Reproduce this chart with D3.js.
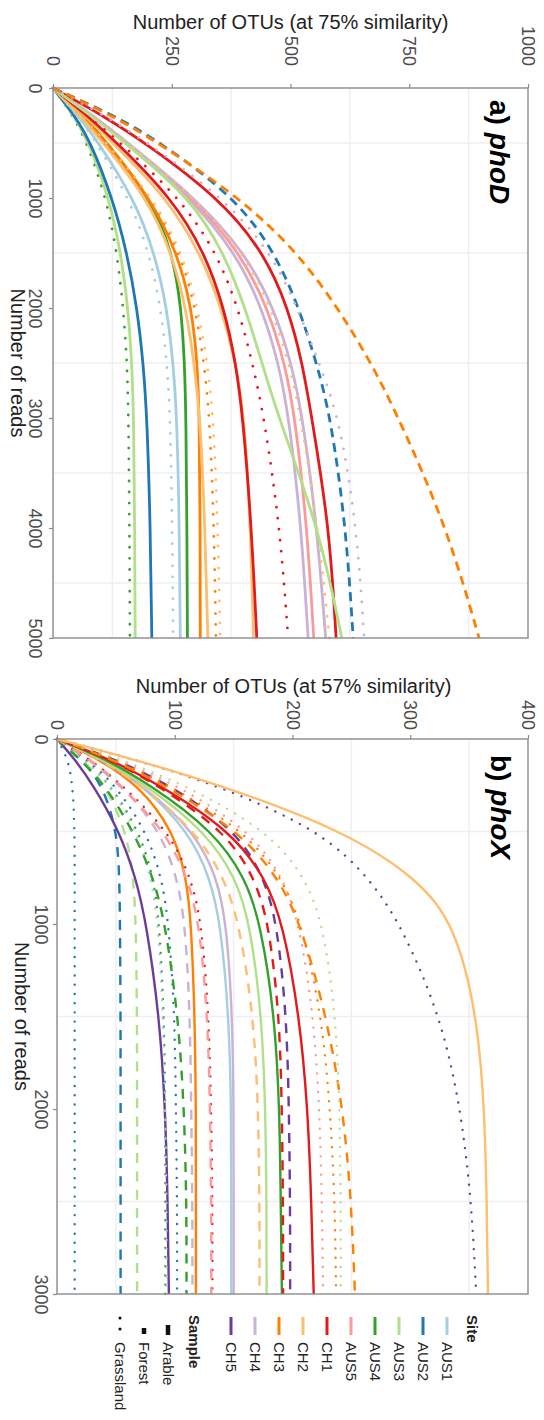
<!DOCTYPE html>
<html>
<head>
<meta charset="utf-8">
<script src="https://cdn.jsdelivr.net/npm/d3@7"></script>
<style>
  html, body { margin: 0; padding: 0; background: #fff; }
  svg { display: block; font-family: "Liberation Sans", Arial, sans-serif; }
</style>
</head>
<body>
<svg id="chart" width="544" height="1420"></svg>
<script>
// ---- legend categories ----
const sites = ["AUS1", "AUS2", "AUS3", "AUS4", "AUS5", "CH1", "CH2", "CH3", "CH4", "CH5"];
const siteColors = ["#a6cee3", "#1f78b4", "#b2df8a", "#33a02c", "#fb9a99",
                    "#e31a1c", "#fdbf6f", "#ff7f00", "#cab2d6", "#6a3d9a"];
const samples = ["Arable", "Forest", "Grassland"];

// ---- a) phoD rarefaction curves (OTUs at 75% similarity) ----
const phoDReads = [0, 250, 500, 1000, 1500, 2000, 2500, 3000, 4000, 5000];
const phoDSite = ["AUS4", "AUS3", "AUS2", "AUS1", "AUS1", "AUS4", "CH3", "CH2", "CH3", "CH2", "CH2",
                  "CH1", "CH1", "CH4", "AUS5", "CH4", "CH2", "CH1", "AUS3", "AUS2", "CH4", "CH3"];
const phoDSample = ["Grassland", "Arable", "Arable", "Grassland", "Arable", "Arable", "Arable", "Arable",
                    "Grassland", "Grassland", "Arable", "Arable", "Grassland", "Arable", "Arable", "Arable",
                    "Grassland", "Arable", "Arable", "Forest", "Grassland", "Forest"];
const phoDOtus = [
  [0, 42, 72, 112, 135, 148, 156, 159, 161, 162],
  [0, 44, 76, 118, 143, 158, 166, 170, 172, 173],
  [0, 46, 80, 125, 156, 177, 190, 198, 205, 208],
  [0, 52, 92, 160, 203, 227, 240, 247, 251, 253],
  [0, 54, 96, 170, 214, 240, 253, 261, 266, 268],
  [0, 62, 115, 205, 252, 270, 277, 280, 282, 283],
  [0, 62, 114, 205, 262, 292, 304, 308, 310, 310],
  [0, 58, 106, 198, 250, 280, 297, 310, 320, 326],
  [0, 60, 110, 208, 268, 300, 318, 330, 339, 343],
  [0, 60, 112, 212, 272, 305, 325, 338, 347, 352],
  [0, 68, 126, 240, 310, 355, 385, 403, 416, 422],
  [0, 72, 135, 250, 320, 360, 385, 400, 418, 429],
  [0, 76, 142, 268, 345, 390, 420, 445, 478, 495],
  [0, 82, 155, 290, 385, 440, 475, 497, 523, 537],
  [0, 82, 155, 295, 395, 452, 488, 510, 535, 549],
  [0, 84, 158, 300, 405, 465, 502, 526, 556, 574],
  [0, 84, 158, 300, 402, 460, 497, 522, 558, 582],
  [0, 105, 195, 350, 445, 495, 525, 545, 582, 596],
  [0, 80, 152, 290, 360, 405, 440, 475, 560, 608],
  [0, 130, 228, 385, 468, 518, 555, 585, 617, 632],
  [0, 110, 200, 360, 460, 515, 560, 603, 640, 655],
  [0, 125, 222, 395, 516, 600, 670, 728, 830, 897]
];
const phoDOtuTicks = [0, 250, 500, 750, 1000];
const phoDReadTicks = [0, 1000, 2000, 3000, 4000, 5000];
const phoDOtuGrid = [125, 375, 625, 875];
const phoDReadGrid = [500, 1500, 2500, 3500, 4500];

// ---- b) phoX rarefaction curves (OTUs at 57% similarity) ----
const phoXReads = [0, 100, 250, 500, 750, 1000, 1500, 2000, 2500, 3000];
const phoXSite = ["AUS2", "AUS2", "AUS3", "CH5", "AUS4", "AUS1", "AUS2", "AUS4", "CH4", "CH3", "CH1", "AUS5", "AUS1",
                  "CH4", "CH2", "AUS3", "AUS4", "CH1", "CH5", "CH1", "AUS5", "CH3", "CH3", "AUS3", "CH5", "CH2"];
const phoXSample = ["Grassland", "Forest", "Forest", "Arable", "Grassland", "Grassland", "Grassland", "Forest",
                    "Forest", "Arable", "Grassland", "Forest", "Arable", "Arable", "Forest", "Arable", "Arable",
                    "Forest", "Forest", "Arable", "Grassland", "Grassland", "Forest", "Grassland", "Grassland", "Arable"];
const phoXOtus = [
  [0, 9, 13.5, 15, 15, 15, 15, 15, 15, 15],
  [0, 20, 39, 51, 53, 53.5, 54, 54, 54, 54],
  [0, 21, 41, 59, 65, 67, 68, 68, 68, 68],
  [0, 14, 31, 53, 67, 76, 87, 92, 94, 95],
  [0, 22, 46, 70, 82, 87, 91, 92, 92, 92],
  [0, 22, 45, 68, 80, 86, 90, 92, 93, 93],
  [0, 24, 50, 76, 89, 95, 100, 101, 102, 102],
  [0, 18, 41, 65, 82, 92, 103, 108, 110, 110],
  [0, 26, 56, 88, 102, 109, 113, 114, 115, 115],
  [0, 33, 70, 99, 110, 114, 117, 118, 118, 118],
  [0, 26, 56, 95, 114, 123, 129, 131, 132, 132],
  [0, 25, 54, 92, 111, 121, 128, 130, 131, 131],
  [0, 36, 73, 112, 130, 139, 146, 148, 148, 148],
  [0, 36, 73, 117, 136, 144, 149, 150, 150, 150],
  [0, 34, 72, 118, 142, 155, 167, 171, 172, 172],
  [0, 37, 76, 126, 152, 164, 174, 177, 178, 178],
  [0, 39, 80, 133, 160, 173, 185, 189, 190, 191],
  [0, 42, 86, 143, 168, 180, 189, 191, 192, 192],
  [0, 46, 97, 153, 176, 187, 195, 197, 198, 198],
  [0, 42, 88, 148, 177, 192, 206, 213, 216, 218],
  [0, 48, 103, 165, 192, 206, 218, 223, 225, 226],
  [0, 45, 96, 160, 191, 208, 225, 232, 236, 237],
  [0, 44, 92, 155, 188, 207, 229, 243, 250, 253],
  [0, 50, 110, 180, 211, 226, 237, 240, 241, 241],
  [0, 60, 138, 225, 265, 292, 326, 343, 352, 356],
  [0, 60, 140, 245, 305, 338, 357, 363, 365, 366]
];
const phoXOtuTicks = [0, 100, 200, 300, 400];
const phoXReadTicks = [0, 1000, 2000, 3000];
const phoXOtuGrid = [50, 150, 250, 350];
const phoXReadGrid = [500, 1500, 2500];

// ---- drawing ----
const svg = d3.select("#chart");
const color = d3.scaleOrdinal().domain(sites).range(siteColors);
const borderColor = "#8a8a8a";
const tickText = "#4d4d4d";
const titleText = "#222";
const fmt = d3.format("d");

function dashFor(sample, p) {
  if (sample === "Forest") return p.dash;
  if (sample === "Grassland") return p.dot;
  return null;
}

function drawPanel(p) {
  const g = svg.append("g");
  const [x0, x1] = p.x.range();
  const [y0, y1] = p.y.range();

  // faint grid between the labelled breaks
  g.append("g").selectAll("line").data(p.otuGrid).join("line")
    .attr("x1", d => p.x(d)).attr("x2", d => p.x(d))
    .attr("y1", y0).attr("y2", y1)
    .attr("stroke", "#efefef").attr("stroke-width", 1.5);
  g.append("g").selectAll("line").data(p.readGrid).join("line")
    .attr("y1", d => p.y(d)).attr("y2", d => p.y(d))
    .attr("x1", x0).attr("x2", x1)
    .attr("stroke", "#efefef").attr("stroke-width", 1.5);

  // rarefaction curves, smoothed through the read depths
  const line = d3.line()
    .x(d => p.x(d[1]))
    .y(d => p.y(d[0]))
    .curve(d3.curveBasis);
  const curves = p.otus.map((vals, i) => ({
    site: p.sites[i], sample: p.samples[i],
    pts: vals.map((v, j) => [p.reads[j], v])
  }));
  g.append("g").selectAll("path").data(curves).join("path")
    .attr("d", d => line(d.pts))
    .attr("fill", "none")
    .attr("stroke", d => color(d.site))
    .attr("stroke-width", p.lw)
    .attr("stroke-linecap", d => d.sample === "Grassland" ? "round" : "butt")
    .attr("stroke-dasharray", d => dashFor(d.sample, p));

  // panel border
  g.append("rect")
    .attr("x", x0).attr("y", y0)
    .attr("width", x1 - x0).attr("height", y1 - y0)
    .attr("fill", "none").attr("stroke", borderColor).attr("stroke-width", 1.4);

  // OTU axis along the top, labels turned a quarter
  const ax = g.append("g").attr("transform", `translate(0,${y0})`)
    .call(d3.axisTop(p.x).tickValues(p.otuTicks).tickFormat(fmt).tickSize(4).tickSizeOuter(0));
  ax.select(".domain").remove();
  ax.selectAll(".tick line").attr("stroke", borderColor).attr("stroke-width", 1.2);
  ax.selectAll(".tick text")
    .attr("x", 0).attr("y", 0).attr("dy", "0.35em")
    .attr("transform", `translate(0,${p.otuLabelEnd - y0}) rotate(90)`)
    .attr("text-anchor", "end")
    .attr("font-size", 18).attr("font-family", "Liberation Sans, Arial, sans-serif")
    .attr("fill", tickText);

  // reads axis along the left
  const ay = g.append("g").attr("transform", `translate(${x0},0)`)
    .call(d3.axisLeft(p.y).tickValues(p.readTicks).tickFormat(fmt).tickSize(4).tickSizeOuter(0));
  ay.select(".domain").remove();
  ay.selectAll(".tick line").attr("stroke", borderColor).attr("stroke-width", 1.2);
  ay.selectAll(".tick text")
    .attr("x", 0).attr("y", 0).attr("dy", "0.35em")
    .attr("transform", `translate(${p.readLabelX - x0},0) rotate(90)`)
    .attr("text-anchor", "middle")
    .attr("font-size", 18).attr("font-family", "Liberation Sans, Arial, sans-serif")
    .attr("fill", tickText);

  // axis titles
  g.append("text")
    .attr("x", (x0 + x1) / 2 + p.titleShift).attr("y", p.titleY)
    .attr("text-anchor", "middle").attr("font-size", 20).attr("fill", titleText)
    .text(p.title);
  g.append("text")
    .attr("transform", `translate(${p.readTitleX},${(y0 + y1) / 2}) rotate(90)`)
    .attr("dy", "0.35em")
    .attr("text-anchor", "middle").attr("font-size", 20).attr("fill", titleText)
    .text("Number of reads");

  // panel tag
  const tag = g.append("text")
    .attr("transform", `translate(${p.tagX},${y0 + p.tagOffset}) rotate(90)`)
    .attr("dy", "0.35em")
    .attr("font-size", 28).attr("font-weight", "bold").attr("fill", "#000");
  tag.append("tspan").text(p.tag[0]);
  tag.append("tspan").attr("font-style", "italic").text(p.tag[1]);
}

drawPanel({
  x: d3.scaleLinear().domain([0, 1000]).range([53, 528]),
  y: d3.scaleLinear().domain([0, 5000]).range([88, 638]),
  reads: phoDReads, sites: phoDSite, samples: phoDSample, otus: phoDOtus,
  otuTicks: phoDOtuTicks, readTicks: phoDReadTicks,
  otuGrid: phoDOtuGrid, readGrid: phoDReadGrid,
  lw: 2.8, dash: "9 6", dot: "0.01 11",
  otuLabelEnd: 66, readLabelX: 35.5, readTitleX: 17.5,
  title: "Number of OTUs (at 75% similarity)", titleY: 29, titleShift: 0,
  tag: ["a) ", "phoD"], tagX: 500, tagOffset: 12
});

drawPanel({
  x: d3.scaleLinear().domain([0, 400]).range([57, 528]),
  y: d3.scaleLinear().domain([0, 3000]).range([739, 1294]),
  reads: phoXReads, sites: phoXSite, samples: phoXSample, otus: phoXOtus,
  otuTicks: phoXOtuTicks, readTicks: phoXReadTicks,
  otuGrid: phoXOtuGrid, readGrid: phoXReadGrid,
  lw: 2.4, dash: "10 8.3", dot: "0.01 9.2",
  otuLabelEnd: 730, readLabelX: 41, readTitleX: 22,
  title: "Number of OTUs (at 57% similarity)", titleY: 693, titleShift: 1,
  tag: ["b) ", "phoX"], tagX: 501, tagOffset: 16
});

// ---- legends (turned a quarter, stacked under the panels) ----
const legendTop = 1317, keyLen = 18, textTop = 1342, step = 24;
const leg = svg.append("g").attr("font-size", 15).attr("fill", titleText);

// Site legend
const siteTitleX = 472, siteFirstX = 447;
leg.append("text")
  .attr("transform", `translate(${siteTitleX},${legendTop - 2}) rotate(90)`)
  .attr("dy", "0.35em").attr("font-weight", "bold").text("Site");
const siteItems = leg.append("g").selectAll("g").data(sites).join("g")
  .attr("transform", (d, i) => `translate(${siteFirstX - i * step},0)`);
siteItems.append("line")
  .attr("x1", 0).attr("x2", 0).attr("y1", legendTop).attr("y2", legendTop + keyLen)
  .attr("stroke", d => color(d)).attr("stroke-width", 3);
siteItems.append("text")
  .attr("transform", `translate(0,${textTop}) rotate(90)`)
  .attr("dy", "0.35em").text(d => d);

// Sample legend: short solid bar, shorter dash, pair of dots
const sampleTitleX = 194, sampleFirstX = 168;
leg.append("text")
  .attr("transform", `translate(${sampleTitleX},${legendTop - 2}) rotate(90)`)
  .attr("dy", "0.35em").attr("font-weight", "bold").text("Sample");
const sampleItems = leg.append("g").selectAll("g").data(samples).join("g")
  .attr("transform", (d, i) => `translate(${sampleFirstX - i * step},0)`);
sampleItems.filter(d => d !== "Grassland").append("line")
  .attr("x1", 0).attr("x2", 0)
  .attr("y1", d => d === "Arable" ? legendTop + 8 : legendTop + 11)
  .attr("y2", d => d === "Arable" ? legendTop + 18 : legendTop + 17)
  .attr("stroke", "#111").attr("stroke-width", 4.5);
sampleItems.filter(d => d === "Grassland").append("line")
  .attr("x1", 0).attr("x2", 0).attr("y1", legendTop + 1).attr("y2", legendTop + keyLen)
  .attr("stroke", "#111").attr("stroke-width", 3.2)
  .attr("stroke-linecap", "round").attr("stroke-dasharray", "0.01 11");
sampleItems.append("text")
  .attr("transform", `translate(0,${textTop}) rotate(90)`)
  .attr("dy", "0.35em").text(d => d);
</script>
</body>
</html>
